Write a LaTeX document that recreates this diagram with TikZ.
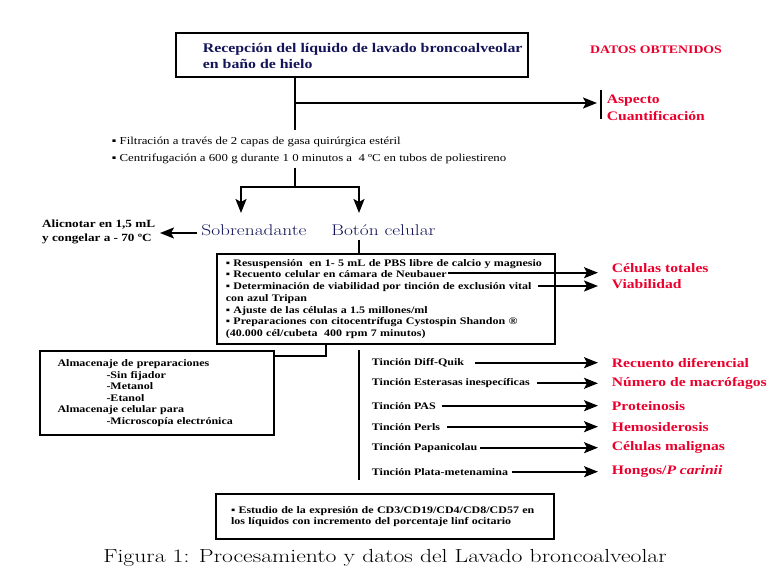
\documentclass[tikz,border=0pt]{standalone}
\usepackage{fontspec}
\setmainfont{Latin Modern Roman}[FakeStretch=1.25]
\newfontfamily\tms{Liberation Serif}[FakeStretch=1.2]
\usetikzlibrary{arrows.meta}
\definecolor{navytext}{RGB}{20,20,90}
\definecolor{datared}{RGB}{235,0,45}

\begin{document}
\begin{tikzpicture}[
	x=1pt, y=-1pt,
	line width=1.8pt,
	arr/.style={-{Stealth[length=14pt,width=11pt,inset=3pt]}},
	boxnode/.style={draw, line width=1.8pt},
	steptext/.style={font=\tms\bfseries\fontsize{10}{11.7}\selectfont, align=left, inner sep=2pt},
	datalabel/.style={font=\tms\bfseries\fontsize{13}{16.7}\selectfont, text=datared, anchor=west, inner xsep=13pt, inner ysep=1pt, align=left},
	navylabel/.style={font=\fontsize{15.5}{18}\selectfont, text=navytext},
]
\useasboundingbox (0,0) rectangle (779,585);

% reception of the lavage
\node[boxnode, minimum width=352pt, minimum height=44pt] (recep) at (352,55) {};
\node[anchor=west, align=left, text=navytext, font=\tms\bfseries\fontsize{13.2}{16}\selectfont, inner sep=0pt] (receptxt) at (202,55.5) {Recepción del líquido de lavado broncoalveolar\\en baño de hielo};
\node[font=\tms\bfseries\fontsize{11.5}{13}\selectfont, text=datared] (datos) at (656,50) {DATOS OBTENIDOS};

\coordinate (j1) at (295,103);
\coordinate (j1end) at (295,130);
\node[datalabel, inner xsep=5pt] (asp) at (601,108) {Aspecto\\Cuantificación};
\draw (recep.south -| j1) -- (j1end);
\draw[arr] (j1) -- ([xshift=-4pt]j1 -| asp.west);
\draw ([yshift=3pt]asp.north west) -- ([yshift=4pt]asp.south west);

% filtration and centrifugation
\node[anchor=west, align=left, font=\tms\fontsize{10.7}{17.6}\selectfont, inner sep=0pt] (filtr) at (111,150.5) {▪ Filtración a través de 2 capas de gasa quirúrgica estéril\\▪ Centrifugación a 600 g durante 1 0 minutos a\ \ 4 ºC en tubos de poliestireno};

\coordinate (j2) at (295,168);
\coordinate (split) at (295,187);
\coordinate (sobtip) at (241,213);
\coordinate (bottip) at (359,213);
\draw (j2) -- (split);
\draw[arr] (split) -| (sobtip);
\draw[arr] (split) -| (bottip);

\node[navylabel] (sobre) at (254,230) {Sobrenadante};
\node[navylabel] (boton) at (383.5,230) {Botón celular};
\node[anchor=east, align=left, font=\tms\bfseries\fontsize{11}{14}\selectfont, inner sep=4pt] (alic) at (160,232) {Alicnotar en 1,5 mL\\y congelar a - 70 ºC};
\draw[arr] ([yshift=-3pt]sobre.west) -- ([yshift=-3pt]sobre.west -| alic.east);

% cell pellet processing
\node[boxnode, steptext, text width=320pt, inner xsep=9pt, inner ysep=4pt, minimum height=90pt, anchor=north west] (proc) at (216,253) {▪ Resuspensión\ \ en 1- 5 mL de PBS libre de calcio y magnesio\\▪ Recuento celular en cámara de Neubauer\\▪ Determinación de viabilidad por tinción de exclusión vital\\con azul Tripan\\▪ Ajuste de las células a 1.5 millones/ml\\▪ Preparaciones con citocentrífuga Cystospin Shandon ®\\(40.000 cél/cubeta\ \ 400 rpm 7 minutos)};
\draw (bottip |- boton.south) -- (bottip |- proc.north);

\coordinate (neub) at (448,272.7);
\coordinate (vital) at (538,286);
\node[datalabel] (celtot) at (598,268) {Células totales};
\node[datalabel] (viab) at (598,284) {Viabilidad};
\draw[arr] (neub) -- (neub -| celtot.west);
\draw[arr] (vital) -- (vital -| viab.west);

% storage
\coordinate (j3) at (326,356);
\node[boxnode, steptext, font=\tms\bfseries\fontsize{10}{11.5}\selectfont, text width=199pt, inner xsep=17.5pt, minimum height=84pt] (almac) at (157,393) {Almacenaje de preparaciones\\\hspace*{49pt}-Sin fijador\\\hspace*{49pt}-Metanol\\\hspace*{49pt}-Etanol\\Almacenaje celular para\\\hspace*{49pt}-Microscopía electrónica};
\draw (proc.south -| j3) -- (j3) -- (j3 -| almac.east);

% stainings
\coordinate (tintop) at (359,350);
\coordinate (tinbot) at (359,480);
\draw (tintop) -- (tinbot);

\node[steptext, anchor=west] (diff) at (369,362.7) {Tinción Diff-Quik};
\node[steptext, anchor=west] (ester) at (369,383.3) {Tinción Esterasas inespecíficas};
\node[steptext, anchor=west] (pas) at (369,405.7) {Tinción PAS};
\node[steptext, anchor=west] (perls) at (369,426.7) {Tinción Perls};
\node[steptext, anchor=west] (papan) at (369,447.7) {Tinción Papanicolau};
\node[steptext, anchor=west] (plata) at (369,471.7) {Tinción Plata-metenamina};

\node[datalabel] (recdif) at (598,362.7) {Recuento diferencial};
\node[datalabel] (macrof) at (598,383.3) {Número de macrófagos};
\node[datalabel] (prot) at (598,405.7) {Proteinosis};
\node[datalabel] (hemos) at (598,426.7) {Hemosiderosis};
\node[datalabel] (malig) at (598,447.7) {Células malignas};
\node[datalabel] (hongos) at (598,471.7) {Hongos/\textit{P carinii}};

\draw[arr] ([xshift=8pt]diff.east) -- (recdif.west);
\draw[arr] ([xshift=4pt]ester.east) -- (macrof.west);
\draw[arr] ([xshift=3pt]pas.east) -- (prot.west);
\draw[arr] ([xshift=4pt]perls.east) -- (hemos.west);
\draw[arr] (papan.east) -- (malig.west);
\draw[arr] ([xshift=1pt]plata.east) -- (hongos.west);

% immunophenotype
\node[boxnode, steptext, font=\tms\bfseries\fontsize{10}{10.5}\selectfont, text width=308pt, inner xsep=15pt, minimum height=45pt] (estudio) at (385,516.5) {▪ Estudio de la expresión de CD3/CD19/CD4/CD8/CD57 en\\los líquidos con incremento del porcentaje linf ocitario};

\node[font=\fontsize{18.9}{23}\selectfont] (caption) at (385,558) {Figura 1: Procesamiento y datos del Lavado broncoalveolar};
\end{tikzpicture}
\end{document}
